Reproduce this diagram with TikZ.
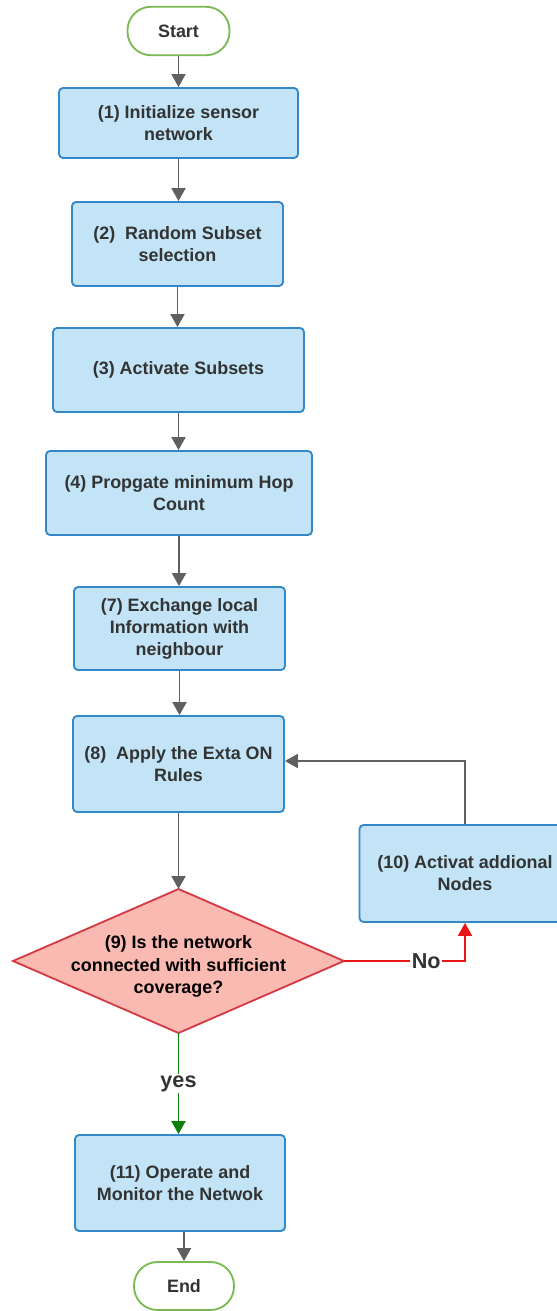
\documentclass[tikz,border=0pt]{standalone}
\usepackage{fontspec}
\setmainfont{Liberation Sans}
\definecolor{BoxBlue}{RGB}{194, 228, 246}
\definecolor{BoxEdge}{RGB}{52, 136, 200}
\definecolor{TermGreen}{RGB}{122, 186, 82}
\definecolor{DecFill}{RGB}{250, 186, 178}
\definecolor{DecEdge}{RGB}{214, 58, 68}
\definecolor{FlowGray}{RGB}{96, 96, 96}
\definecolor{TextGray}{RGB}{51, 51, 51}
\definecolor{NoRed}{RGB}{232, 22, 22}
\definecolor{YesGreen}{RGB}{10, 128, 10}
\usetikzlibrary{arrows.meta, shapes.geometric}

\tikzset{
    stepbox/.style={draw=BoxEdge, fill=BoxBlue, line width=1.05pt, rounded corners=0.08cm,
        align=center, text=TextGray, font=\bfseries\fontsize{10.2}{12.5}\selectfont},
    terminal/.style={draw=TermGreen, fill=white, line width=1.05pt, rounded corners=0.47cm,
        minimum width=2.04cm, minimum height=0.97cm, text=TextGray, font=\bfseries\fontsize{10.2}{12.5}\selectfont},
    decision/.style={diamond, draw=DecEdge, fill=DecFill, line width=1.05pt, inner sep=0pt, outer sep=0pt,
        minimum width=6.62cm, minimum height=2.88cm},
    flow/.style={draw=FlowGray, line width=1.1pt, -{Triangle[length=2.6mm, width=2.8mm]}},
    noflow/.style={draw=NoRed, line width=1.1pt, -{Triangle[length=2.6mm, width=2.8mm]}},
    yesflow/.style={draw=YesGreen, line width=1.1pt, -{Triangle[length=2.6mm, width=2.8mm]}},
    edgelabel/.style={fill=white, inner sep=1pt, text=TextGray, font=\bfseries\fontsize{12.3}{14}\selectfont}
}

\begin{document}
\begin{tikzpicture}[x=0.02cm, y=-0.02cm]
    \useasboundingbox (0,0) rectangle (557,1311);
    \clip (0,0) rectangle (557,1311);

    % Main column
    \node[terminal] (start) at (178.5,31) {Start};
    \node[stepbox, minimum width=4.78cm, minimum height=1.40cm] (b1) at (178.5,123) {(1) Initialize sensor\\network};
    \node[stepbox, minimum width=4.22cm, minimum height=1.68cm] (b2) at (177.5,244) {(2)~ Random Subset\\selection};
    \node[stepbox, minimum width=5.02cm, minimum height=1.68cm] (b3) at (178.5,370) {(3) Activate Subsets};
    \node[stepbox, minimum width=5.32cm, minimum height=1.68cm] (b4) at (179,493) {(4) Propgate minimum Hop\\Count};
    \node[stepbox, minimum width=4.22cm, minimum height=1.66cm] (b7) at (179.5,628.5) {(7) Exchange local\\Information with\\neighbour};
    \node[stepbox, minimum width=4.22cm, minimum height=1.92cm] (b8) at (178.5,764) {(8)~ Apply the Exta ON\\Rules};

    % Decision and side loop
    \node[decision] (d9) at (178.5,961) {};
    \node[align=center, yshift=-0.11cm, font=\bfseries\fontsize{10.2}{13}\selectfont] (q9) at (d9) {(9) Is the network\\connected with sufficient\\coverage?};
    \node[stepbox, minimum width=4.22cm, minimum height=1.94cm] (b10) at (465,873.5) {(10) Activat addional\\Nodes};

    \node[stepbox, minimum width=4.20cm, minimum height=1.92cm] (b11) at (180,1183) {(11) Operate and\\Monitor the Netwok};
    \node[terminal, minimum width=2.00cm, minimum height=0.96cm] (end) at (184,1286) {End};

    % Straight arrows down the column
    \foreach \a/\b in {start/b1, b1/b2, b2/b3, b3/b4, b4/b7, b7/b8, b8/d9}
        \draw[flow] (\a.south) -- (\a.south |- \b.north);
    \draw[flow] (b11.south -| end) -- (end.north);

    % Branches
    \draw[noflow] (d9.east) -| node[edgelabel, pos=0.34] {No} (b10.south);
    \draw[flow] (b10.north) |- ([yshift=0.06cm]b8.east);
    \draw[yesflow] (d9.south) -- node[edgelabel] {yes} (d9.south |- b11.north);
\end{tikzpicture}
\end{document}
